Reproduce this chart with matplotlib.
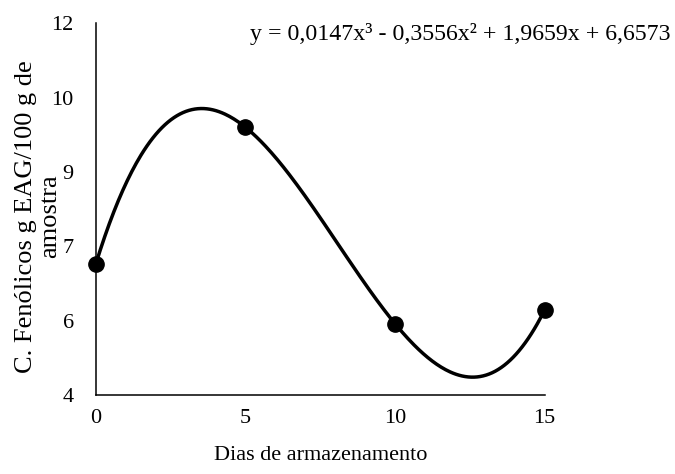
import numpy as np
import matplotlib
matplotlib.use('Agg')
import matplotlib.pyplot as plt

# dias de armazenamento e compostos fenólicos medidos
dias = [0, 5, 10, 15]
fenolicos = [6.82, 9.76, 5.53, 5.83]

y_ticks = [4, 5.6, 7.2, 8.8, 10.4, 12]
y_tick_labels = ['4', '6', '7', '9', '10', '12']
x_ticks = [0, 5, 10, 15]

equacao = 'y = 0,0147x³ - 0,3556x² + 1,9659x + 6,6573'

plt.rcParams['font.family'] = ['Liberation Serif', 'DejaVu Serif']

fig = plt.figure(figsize=(6.75, 4.74), dpi=100)
ax = fig.add_axes([0.142, 0.167, 0.665, 0.784])

# linha de tendência polinomial de 3ª ordem
coef = np.polyfit(dias, fenolicos, 3)
xs = np.linspace(min(dias), max(dias), 300)
ax.plot(xs, np.polyval(coef, xs), color='black', lw=2.5, zorder=2)
ax.plot(dias, fenolicos, 'o', color='black', ms=11, zorder=3, clip_on=False)

ax.set_xlim(0, 15)
ax.set_ylim(4, 12)
ax.set_xticks(x_ticks)
ax.set_yticks(y_ticks)
ax.set_yticklabels(y_tick_labels)
ax.tick_params(length=0, labelsize=16, pad=10)
ax.tick_params(axis='y', pad=16)

for s in ['top', 'right']:
    ax.spines[s].set_visible(False)
for s in ['left', 'bottom']:
    ax.spines[s].set_linewidth(1.1)

ax.set_xlabel('Dias de armazenamento', fontsize=16, labelpad=13)
ax.set_ylabel('C. Fenólicos g EAG/100 g de\namostra', fontsize=19,
              linespacing=1.1)
ax.yaxis.set_label_coords(-0.078, 0.48)

fig.text(0.993, 0.928, equacao, ha='right', va='center', fontsize=17.2)

fig.savefig('out.png', dpi=100)
